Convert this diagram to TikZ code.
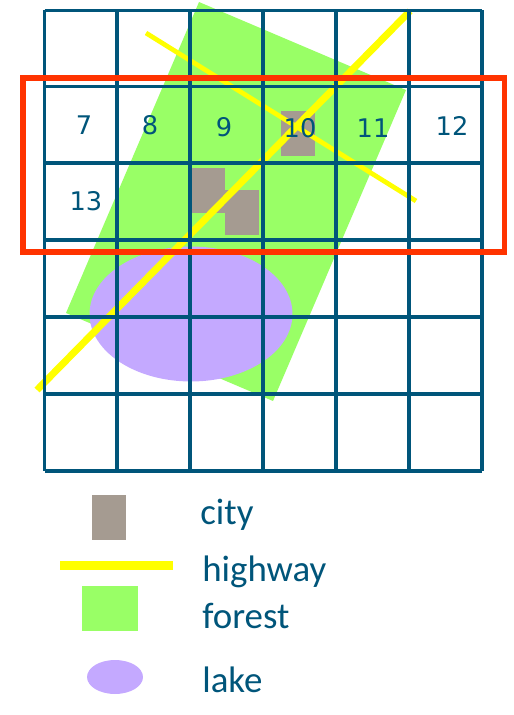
\documentclass[tikz,border=0pt]{standalone}
\usepackage{fontspec}
\setmainfont{Carlito}
\newfontfamily\numfont{DejaVu Sans}
\usepackage{tikz}
\usetikzlibrary{positioning, shapes.geometric}
\definecolor{gridblue}{HTML}{00557A}
\definecolor{forestgreen}{HTML}{99FF66}
\definecolor{citygray}{HTML}{A59B91}
\definecolor{lakepurple}{HTML}{C4A9FF}
\definecolor{framered}{HTML}{FF3300}
\definecolor{roadyellow}{HTML}{FFFF00}
\tikzset{
  citybox/.style={fill=citygray, inner sep=0pt, minimum width=0.68cm, minimum height=0.9cm},
  lakeshape/.style={ellipse, fill=lakepurple, inner sep=0pt},
  road/.style={draw=roadyellow, line cap=butt},
  gridline/.style={draw=gridblue, line width=1.8pt},
  cellnum/.style={font=\numfont\fontsize{14.6}{17}\selectfont, text=gridblue, inner sep=0pt},
  legendtext/.style={font=\fontsize{21}{24}\selectfont, text=gridblue, anchor=base west, inner sep=0pt}
}
\begin{document}
\begin{tikzpicture}[x=0.02cm, y=-0.02cm]
    \useasboundingbox (0,0) rectangle (513,715);
    % forest
    \coordinate (forestN) at (199,2);
    \coordinate (forestE) at (406,90);
    \coordinate (forestS) at (273,401);
    \coordinate (forestW) at (66,313);
    \fill[forestgreen] (forestN) -- (forestE) -- (forestS) -- (forestW) -- cycle;
    % cities
    \node[citybox] (cityA) at (208,190.5) {};
    \node[citybox] (cityB) at (242,212.5) {};
    \node[citybox] (cityC) at (298,133.5) {};
    % lake
    \node[lakeshape, minimum width=4.06cm, minimum height=2.7cm] (lake) at (191,314) {};
    % highways
    \coordinate (roadAstart) at (146,33);
    \coordinate (roadAend) at (416,201);
    \coordinate (roadBstart) at (37,390);
    \coordinate (roadBend) at (410,11);
    \draw[road, line width=2.7pt] (roadAstart) -- (roadAend);
    \draw[road, line width=4pt] (roadBstart) -- (roadBend);
    % grid
    \foreach \gx in {44.5,117,190,263,336,409,482}
      \draw[gridline] (\gx,10.5) -- (\gx,471);
    \foreach \gy in {10.5,86.5,163,240,317,394,471}
      \draw[gridline] (44.5,\gy) -- (482,\gy);
    % cell numbers
    \foreach \num/\cx/\cy in {7/84/125.5,8/150/125,9/224/127,10/300/128,11/373/128.5,12/452/126,13/86/201}
      \node[cellnum] (cell\num) at (\cx,\cy) {\num};
    % red frame
    \node[draw=framered, line width=3.2pt, inner sep=0pt, minimum width=9.63cm, minimum height=3.48cm] (frame) at (263.75,165) {};
    % legend
    \node[citybox] (legcity) at (109,517.5) {};
    \coordinate (legroadstart) at (60,565.5);
    \coordinate (legroadend) at (173,565.5);
    \draw[road, line width=4.8pt] (legroadstart) -- (legroadend);
    \node[fill=forestgreen, inner sep=0pt, minimum width=1.12cm, minimum height=0.9cm] (legforest) at (110,608.5) {};
    \node[lakeshape, minimum width=1.12cm, minimum height=0.68cm] (leglake) at (115,677) {};
    \node[legendtext] (txtcity) at (200,524) {city};
    \node[legendtext] (txthighway) at (202,581) {highway};
    \node[legendtext] (txtforest) at (202,628) {forest};
    \node[legendtext] (txtlake) at (202,692.5) {lake};
\end{tikzpicture}
\end{document}
